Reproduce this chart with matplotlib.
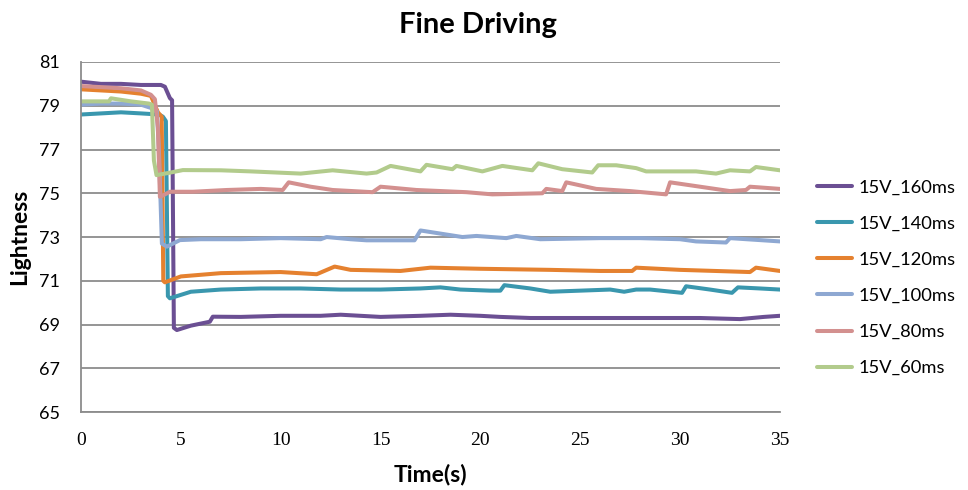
import matplotlib
matplotlib.use("Agg")
import matplotlib.pyplot as plt

plt.rcParams["font.family"] = ["Lato", "DejaVu Sans"]

# Lightness readings over time for each driving pulse width
t_160 = [0, 1, 2, 3, 4.0, 4.2, 4.45, 4.56, 4.65, 4.8, 5.5, 6.45, 6.6, 8, 10, 12, 13,
         15, 17, 18.5, 20, 21, 22.5, 25, 28, 31, 33, 34.2, 35]
v_160 = [80.1, 80.0, 80.0, 79.95, 79.95, 79.87, 79.35, 79.25, 68.85, 68.75, 68.95, 69.13,
         69.36, 69.35, 69.4, 69.4, 69.45, 69.35, 69.4, 69.45, 69.4, 69.35, 69.3, 69.3,
         69.3, 69.3, 69.25, 69.35, 69.4]

t_140 = [0, 1, 2, 3, 3.9, 4.1, 4.25, 4.35, 4.45, 5.5, 7, 9, 11, 13, 15, 17, 18, 19, 20.5,
         21.0, 21.2, 22.5, 23.5, 25, 26.5, 27.2, 27.8, 28.5, 30.1, 30.3, 31.5, 32.6, 32.9,
         34, 35]
v_140 = [78.6, 78.65, 78.7, 78.65, 78.6, 78.5, 78.3, 70.3, 70.2, 70.5, 70.6, 70.65, 70.65,
         70.6, 70.6, 70.65, 70.7, 70.6, 70.55, 70.55, 70.8, 70.65, 70.5, 70.55, 70.6, 70.5,
         70.6, 70.6, 70.45, 70.75, 70.6, 70.45, 70.7, 70.65, 70.6]

t_120 = [0, 1, 2, 3, 3.5, 3.85, 4.04, 4.12, 4.2, 5, 7, 10, 11.8, 12.7, 13.5, 16, 17.5, 20,
         23.5, 26, 27.6, 27.8, 30, 33.5, 33.8, 35]
v_120 = [79.75, 79.7, 79.65, 79.55, 79.45, 78.7, 78.5, 71.0, 70.93, 71.2, 71.35, 71.4, 71.3,
         71.65, 71.5, 71.45, 71.6, 71.55, 71.5, 71.45, 71.45, 71.6, 71.5, 71.4, 71.6, 71.45]

t_100 = [0, 1, 2, 3, 3.5, 3.8, 3.9, 4.05, 4.3, 4.95, 6, 8, 10, 12, 12.3, 13.5, 14.3, 16.7,
         17.0, 19.1, 19.8, 21.3, 21.8, 23, 26, 28, 30, 30.8, 32.3, 32.5, 35]
v_100 = [79.05, 79.1, 79.1, 79.05, 78.9, 78.75, 77.0, 72.7, 72.56, 72.86, 72.9, 72.9, 72.95,
         72.9, 73.0, 72.9, 72.85, 72.85, 73.3, 73.0, 73.05, 72.95, 73.05, 72.9, 72.95,
         72.95, 72.9, 72.8, 72.75, 72.95, 72.8]

t_80 = [0, 1, 2, 3, 3.5, 3.7, 3.85, 3.95, 4.1, 4.45, 5.6, 7.3, 9, 10.1, 10.4, 11.5, 12.6,
        14.6, 15.0, 16.8, 19.3, 20.6, 23.1, 23.3, 24.1, 24.3, 25.8, 27.5, 29.3, 29.5, 31,
        32.5, 33.3, 33.5, 35]
v_80 = [79.9, 79.85, 79.8, 79.7, 79.5, 79.3, 78.0, 74.84, 74.9, 75.07, 75.07, 75.15, 75.2,
        75.15, 75.5, 75.3, 75.15, 75.05, 75.3, 75.15, 75.05, 74.95, 75.0, 75.2, 75.1, 75.5,
        75.2, 75.1, 74.95, 75.5, 75.3, 75.1, 75.15, 75.3, 75.2]

t_60 = [0, 1, 1.4, 1.5, 2.5, 3.4, 3.55, 3.65, 3.78, 4.5, 5.1, 7, 8.5, 11, 12.6, 14.3, 14.8,
        15.5, 17, 17.3, 18.6, 18.8, 20.1, 21.1, 22.6, 22.9, 24.1, 25.6, 25.9, 26.8, 27.8,
        28.3, 30.8, 31.8, 32.5, 33.5, 33.8, 35]
v_60 = [79.2, 79.2, 79.2, 79.34, 79.2, 79.1, 79.05, 76.5, 75.83, 75.95, 76.06, 76.05, 76.0,
        75.9, 76.05, 75.9, 75.95, 76.25, 76.0, 76.3, 76.1, 76.25, 76.0, 76.25, 76.05, 76.37,
        76.1, 75.95, 76.28, 76.28, 76.15, 76.0, 76.0, 75.9, 76.05, 76.0, 76.2, 76.05]

series_names = ["15V_160ms", "15V_140ms", "15V_120ms", "15V_100ms", "15V_80ms", "15V_60ms"]
series_t = [t_160, t_140, t_120, t_100, t_80, t_60]
series_v = [v_160, v_140, v_120, v_100, v_80, v_60]
colors = ["#6b4f93", "#3a97ae", "#e5812f", "#8ea8d2", "#d3908f", "#b2cb8c"]

y_ticks = [65, 67, 69, 71, 73, 75, 77, 79, 81]
x_ticks = [0, 5, 10, 15, 20, 25, 30, 35]

fig = plt.figure(figsize=(9.68, 4.90), dpi=100)
ax = fig.add_axes([0.0837, 0.159, 0.722, 0.7145])

for name, t, v, c in zip(series_names, series_t, series_v, colors):
    ax.plot(t, v, color=c, lw=2.9, label=name, solid_joinstyle="round",
            solid_capstyle="round")

ax.set_xlim(0, 35)
ax.set_ylim(65, 81)
ax.set_xticks(x_ticks)
ax.set_yticks(y_ticks)
ax.tick_params(axis="y", length=0, labelsize=13, pad=15)
ax.tick_params(axis="x", length=0, labelsize=14, pad=14)
for lab in ax.get_xticklabels():
    lab.set_family(["Liberation Serif", "DejaVu Serif"])
ax.grid(axis="y", color="#8c8c8c", lw=1.3)
ax.set_axisbelow(True)
for side in ("top", "right"):
    ax.spines[side].set_visible(False)
for side in ("left", "bottom"):
    ax.spines[side].set_color("#8c8c8c")
    ax.spines[side].set_linewidth(1.3)

ax.set_xlabel("Time(s)", fontsize=16.5, fontweight="bold")
ax.set_ylabel("Lightness", fontsize=16.5, fontweight="bold")
ax.xaxis.set_label_coords(0.5, -0.146)
ax.yaxis.set_label_coords(-0.073, 0.5)
fig.text(0.494, 0.95, "Fine Driving", ha="center", va="center",
         fontsize=21, fontweight="bold")

fig.legend(loc="center left", bbox_to_anchor=(0.827, 0.433), frameon=False,
           fontsize=13.2, handlelength=1.9, handletextpad=0.35, labelspacing=1.1)

fig.savefig("out.png", dpi=100)
